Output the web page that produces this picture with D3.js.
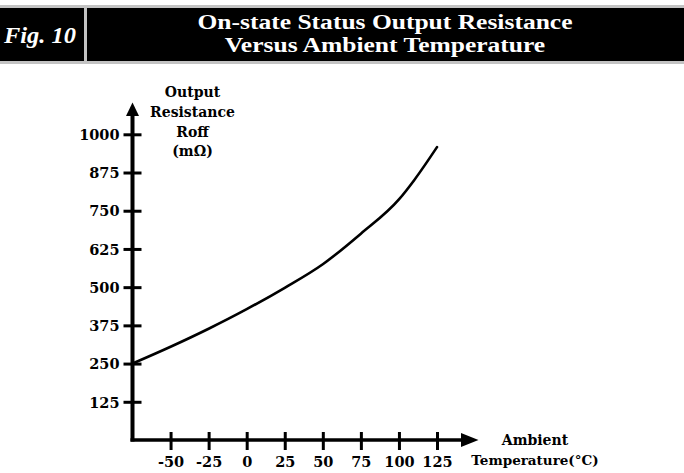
<!DOCTYPE html>
<html><head><meta charset="utf-8">
<script src="https://cdn.jsdelivr.net/npm/d3@7"></script>
<style>html,body{margin:0;padding:0;background:#fff;}svg{display:block;}</style>
</head><body>
<svg id="c" width="684" height="473"></svg>
<script>
const temps = [-75, -50, -25, 0, 25, 50, 75, 100, 110, 125];
const roff  = [250, 305, 364, 428, 498, 575, 675, 787, 850, 958];
const xTicks = [-50, -25, 0, 25, 50, 75, 100, 125];
const yTicks = [125, 250, 375, 500, 625, 750, 875, 1000];
const titleLines = ["On-state Status Output Resistance", "Versus Ambient Temperature"];
const figLabel = "Fig. 10";
const yTitle = ["Output", "Resistance", "Roff", "(mΩ)"];
const xTitle = ["Ambient", "Temperature(°C)"];

const svg = d3.select("#c");
const labFont = "'DejaVu Serif', serif";

// header
svg.append("rect").attr("x",0).attr("y",5).attr("width",684).attr("height",59).attr("fill","#c3c3c3");
svg.append("rect").attr("x",0).attr("y",8).attr("width",684).attr("height",53).attr("fill","#000");
svg.append("rect").attr("x",84).attr("y",8).attr("width",3).attr("height",53).attr("fill","#c3c3c3");
svg.append("text").attr("x",4).attr("y",43).attr("fill","#fff")
  .attr("font-family","'Liberation Serif', serif").attr("font-weight","bold").attr("font-style","italic")
  .attr("font-size",23).attr("textLength",72).attr("lengthAdjust","spacingAndGlyphs").text(figLabel);
const tl = svg.append("g").selectAll("text").data(titleLines).join("text")
  .attr("x",385).attr("y",(d,i)=>29+i*23).attr("text-anchor","middle").attr("fill","#fff")
  .attr("font-family","'Liberation Serif', serif").attr("font-weight","bold").attr("font-size",20.5)
  .text(d=>d);
const nat0 = tl.nodes()[0].getComputedTextLength();
const k = 375 / nat0;
tl.each(function(){ const w = this.getComputedTextLength();
  d3.select(this).attr("textLength", w*k).attr("lengthAdjust","spacingAndGlyphs"); });

const x = d3.scaleLinear().domain([-75,125]).range([132.5,437]);
const y = d3.scaleLinear().domain([0,1000]).range([440,134.3]);
const x0 = x(-75), y0 = y(0);

// axis lines
svg.append("line").attr("x1",x0).attr("x2",x0).attr("y1",y0+1.5).attr("y2",114)
  .attr("stroke","#000").attr("stroke-width",4);
svg.append("line").attr("x1",x0-2).attr("x2",463).attr("y1",y0).attr("y2",y0)
  .attr("stroke","#000").attr("stroke-width",3.5);
svg.append("path").attr("d",`M${x0-6.5},116 L${x0},102.5 L${x0+6.5},116 Z`).attr("fill","#000");
svg.append("path").attr("d",`M461,${y0-7} L478.5,${y0} L461,${y0+7} Z`).attr("fill","#000");

// y axis ticks
const ya = svg.append("g").attr("transform",`translate(${x0},0)`)
  .call(d3.axisLeft(y).tickValues(yTicks).tickSize(9).tickFormat(d=>String(d)));
ya.select(".domain").remove();
ya.selectAll(".tick line").attr("x1",9).attr("x2",-9).attr("stroke","#000").attr("stroke-width",3);
ya.selectAll(".tick text").attr("x",-13).attr("dy","0.36em").attr("fill","#000")
  .attr("font-family",labFont).attr("font-weight","bold").attr("font-size",14.5);

// x axis ticks
const xa = svg.append("g").attr("transform",`translate(0,${y0})`)
  .call(d3.axisBottom(x).tickValues(xTicks).tickSize(10).tickFormat(d=>String(d)));
xa.select(".domain").remove();
xa.selectAll(".tick line").attr("y1",-8).attr("y2",10).attr("stroke","#000").attr("stroke-width",3);
xa.selectAll(".tick text").attr("y",27).attr("dy",0).attr("fill","#000")
  .attr("font-family",labFont).attr("font-weight","bold").attr("font-size",14.5);

// titles
svg.append("g").selectAll("text").data(yTitle).join("text")
  .attr("x",192.5).attr("y",(d,i)=>[97,117,137,156][i]).attr("text-anchor","middle")
  .attr("font-family",labFont).attr("font-weight","bold").attr("font-size",14).text(d=>d);
svg.append("g").selectAll("text").data(xTitle).join("text")
  .attr("x",535).attr("y",(d,i)=>[445,465][i]).attr("text-anchor","middle")
  .attr("font-family",labFont).attr("font-weight","bold").attr("font-size",(d,i)=>i?13.5:14).text(d=>d);

// curve
const data = temps.map((t,i)=>({t, r: roff[i]}));
svg.append("path").datum(data)
  .attr("d", d3.line().x(d=>x(d.t)).y(d=>y(d.r)).curve(d3.curveMonotoneX))
  .attr("fill","none").attr("stroke","#000").attr("stroke-width",2.6).attr("stroke-linecap","round");
</script>
</body></html>
